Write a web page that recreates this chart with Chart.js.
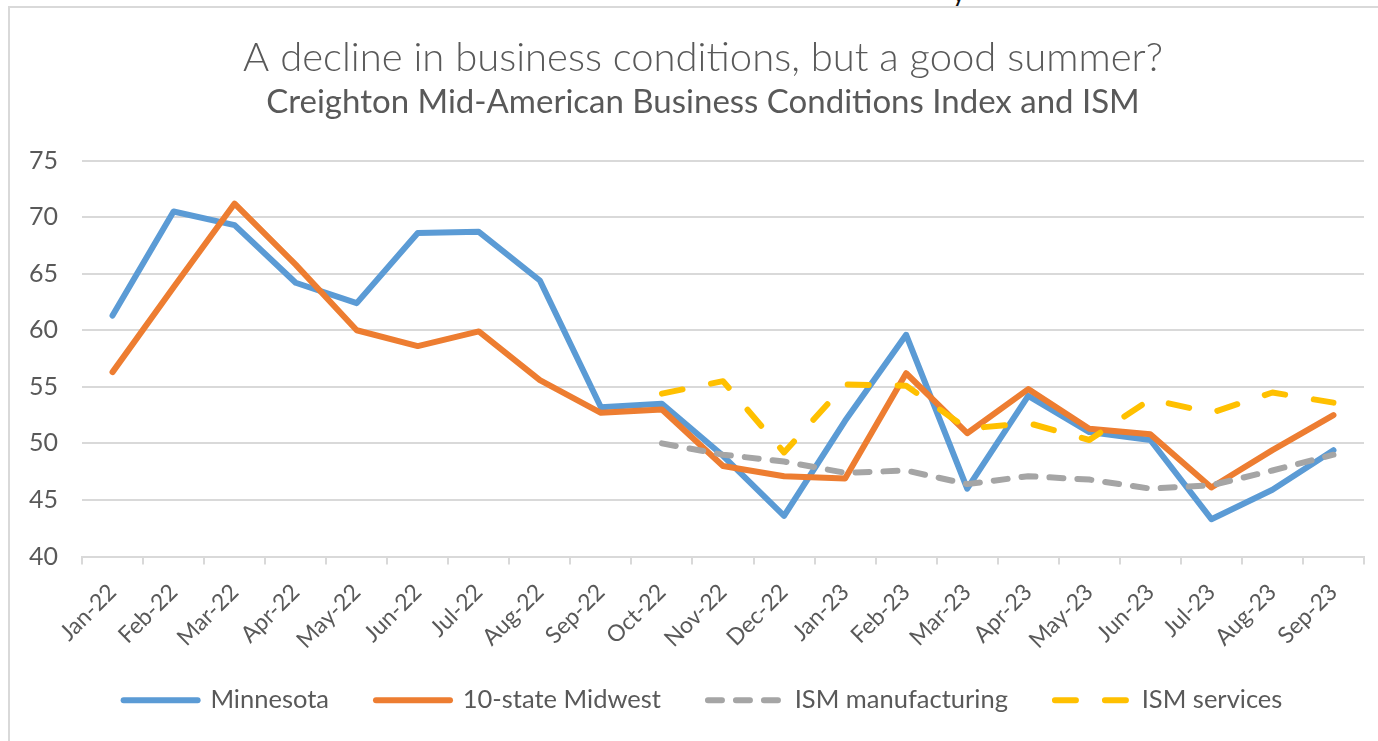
<!DOCTYPE html>
<html>
<head>
<meta charset="utf-8">
<script src="https://cdn.jsdelivr.net/npm/chart.js@4.4.1/dist/chart.umd.min.js"></script>
<style>
    html, body { margin: 0; padding: 0; background: #fff; overflow: hidden; width: 1378px; height: 741px; }
    #frame { position: absolute; left: 8px; top: 6px; width: 1386px; height: 760px; border: 2px solid #d9d9d9; }
    #frame canvas { display: block; }
    #cut { position: absolute; left: 952px; top: -24px; font: 26px Lato, sans-serif; color: #111; }
</style>
</head>
<body>
<div id="cut">y</div>
<div id="frame"><canvas id="chart" width="1386" height="760"></canvas></div>
<script>
// Chart data
const months = [
    'Jan-22', 'Feb-22', 'Mar-22', 'Apr-22', 'May-22', 'Jun-22', 'Jul-22',
    'Aug-22', 'Sep-22', 'Oct-22', 'Nov-22', 'Dec-22', 'Jan-23', 'Feb-23',
    'Mar-23', 'Apr-23', 'May-23', 'Jun-23', 'Jul-23', 'Aug-23', 'Sep-23',
];
const minnesota = [61.3, 70.5, 69.3, 64.2, 62.4, 68.6, 68.7, 64.4, 53.2, 53.5, 48.9, 43.6,
    52.0, 59.6, 46.0, 54.2, 51.0, 50.3, 43.3, 45.9, 49.4];
const midwest = [56.3, 63.8, 71.2, 65.8, 60.0, 58.6, 59.9, 55.6, 52.7, 53.0, 48.0, 47.1,
    46.9, 56.2, 50.9, 54.8, 51.3, 50.8, 46.1, 49.4, 52.5];
const ismManufacturing = [null, null, null, null, null, null, null, null, null,
    50.0, 49.0, 48.4, 47.4, 47.6, 46.4, 47.1, 46.8, 46.0, 46.3, 47.6, 49.0];
const ismServices = [null, null, null, null, null, null, null, null, null,
    54.4, 55.5, 49.2, 55.2, 55.1, 51.3, 51.8, 50.3, 53.9, 52.7, 54.5, 53.6];
const yTicks = [40, 45, 50, 55, 60, 65, 70, 75];

// Office palette
const colors = {
    blue: '#5b9bd5',
    orange: '#ed7d31',
    gray: '#a5a5a5',
    gold: '#ffc000',
    text: '#595959',
    grid: '#d9d9d9',
};

const font = 'Lato, "Open Sans", sans-serif';

const lineStyle = (color, dash) => ({
    borderColor: color,
    backgroundColor: color,
    borderWidth: 6,
    borderDash: dash,
    borderCapStyle: 'round',
    borderJoinStyle: 'round',
    pointRadius: 0,
    tension: 0,
    fill: false,
});

// legend swatches drawn as short lines with the series' own dash
const legendLabels = (chart) => chart.data.datasets.map((ds, i) => ({
    text: ds.label,
    datasetIndex: i,
    hidden: false,
    fontColor: colors.text,
    fillStyle: ds.borderColor,
    strokeStyle: ds.borderColor,
    lineWidth: ds.borderWidth,
    lineDash: ds.borderDash,
    lineCap: 'round',
    pointStyle: 'line',
}));

new Chart(document.getElementById('chart'), {
    type: 'line',
    data: {
        labels: months,
        datasets: [
            { label: 'Minnesota', data: minnesota, order: 4, ...lineStyle(colors.blue, []) },
            { label: '10-state Midwest', data: midwest, order: 3, ...lineStyle(colors.orange, []) },
            { label: 'ISM manufacturing', data: ismManufacturing, order: 2, ...lineStyle(colors.gray, [14, 14]) },
            { label: 'ISM services', data: ismServices, order: 1, ...lineStyle(colors.gold, [21, 29]) },
        ],
    },
    options: {
        responsive: false,
        animation: false,
        layout: { padding: { left: 0, right: 0, top: 0, bottom: 45 } },
        plugins: {
            tooltip: { enabled: false },
            title: {
                display: true,
                text: 'A decline in business conditions, but a good summer?',
                color: colors.text,
                font: { family: font, size: 40, weight: '300' },
                padding: { top: 26, bottom: 1 },
            },
            subtitle: {
                display: true,
                text: 'Creighton Mid-American Business Conditions Index and ISM',
                color: colors.text,
                font: { family: font, size: 33 },
                padding: { top: 0, bottom: 38 },
            },
            legend: {
                position: 'bottom',
                labels: {
                    generateLabels: legendLabels,
                    color: colors.text,
                    font: { family: font, size: 25.5 },
                    usePointStyle: true,
                    pointStyleWidth: 74,
                    padding: 47,
                },
            },
        },
        scales: {
            x: {
                offset: true,
                grid: {
                    offset: true,
                    drawOnChartArea: false,
                    drawTicks: true,
                    tickLength: 8,
                    color: colors.grid,
                    lineWidth: 2,
                },
                border: { color: colors.grid, width: 2 },
                ticks: {
                    color: colors.text,
                    font: { family: font, size: 23 },
                    minRotation: 45,
                    maxRotation: 45,
                    autoSkip: false,
                    padding: 14,
                },
                afterFit: (scale) => {
                    scale.height = 84;
                    // rotated labels reach into the legend's padding; don't clip them
                    scale._computeLabelArea = () => undefined;
                },
            },
            y: {
                min: 40,
                max: 75,
                afterBuildTicks: (scale) => { scale.ticks = yTicks.map((v) => ({ value: v })); },
                grid: { color: colors.grid, lineWidth: 2, drawTicks: false },
                border: { display: false },
                ticks: {
                    color: colors.text,
                    font: { family: font, size: 25 },
                    padding: 24,
                },
                afterFit: (scale) => { scale.width = 72; },
            },
            // empty right-hand box so the titles centre on the whole frame
            spacer: {
                type: 'linear',
                position: 'right',
                grid: { display: false },
                border: { display: false },
                ticks: { display: false },
                afterFit: (scale) => { scale.width = 32; },
            },
        },
    },
});
</script>
</body>
</html>
